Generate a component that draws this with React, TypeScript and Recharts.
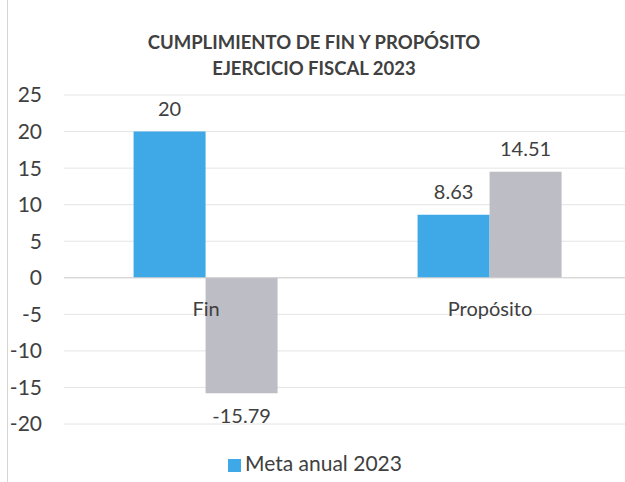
import { BarChart, Bar, XAxis, YAxis, CartesianGrid, Legend, LabelList, ReferenceLine } from 'recharts'

const categorias = ['Fin', 'Propósito']
const metaAnual = [20, 8.63]
const resultado = [-15.79, 14.51]
const ticksY = [-20, -15, -10, -5, 0, 5, 10, 15, 20, 25]

const data = categorias.map((c, i) => ({
  name: c,
  meta: metaAnual[i],
  resultado: resultado[i]
}))

const font = 'Lato, "Open Sans", sans-serif'
const texto = '#404040'

function CategoriaTick({ x, y, payload }: any) {
  // las etiquetas van sobre la linea de cero, no abajo del grafico
  return (
    <text x={x} y={y - 116} textAnchor="middle" fill={texto} fontSize={20} fontFamily={font}>
      {payload.value}
    </text>
  )
}

export default function App() {
  return (
    <div style={{ position: 'absolute', left: 0, top: 0, width: 625, height: 482, overflow: 'hidden', background: '#fff' }}>
      <div style={{ position: 'absolute', left: 7, top: 0, width: 1, height: 482, background: '#d6d6d6' }} />
      <div
        style={{
          position: 'absolute',
          left: 0,
          top: 29,
          width: 628,
          textAlign: 'center',
          fontFamily: font,
          fontWeight: 700,
          fontSize: 18.5,
          lineHeight: '26px',
          color: texto
        }}
      >
        <div>CUMPLIMIENTO DE FIN Y PROPÓSITO</div>
        <div>EJERCICIO FISCAL 2023</div>
      </div>
      <BarChart
        width={632}
        height={482}
        data={data}
        margin={{ top: 95, right: 0, bottom: 28, left: 0 }}
        barCategoryGap="24.5%"
        barGap={0}
      >
        <CartesianGrid vertical={false} stroke="#e4e4e4" />
        <XAxis
          dataKey="name"
          axisLine={false}
          tickLine={false}
          height={30}
          tick={<CategoriaTick />}
          interval={0}
        />
        <YAxis
          domain={[-20, 25]}
          ticks={ticksY}
          width={64}
          axisLine={false}
          tickLine={false}
          tickMargin={16}
          tick={{ fill: texto, fontSize: 21, fontFamily: font }}
        />
        <ReferenceLine y={0} stroke="#d0d0d0" />
        <Legend
          verticalAlign="middle"
          align="center"
          iconType="square"
          iconSize={13}
          wrapperStyle={{ top: 450, left: 0, width: 640, fontFamily: font, fontSize: 21 }}
          formatter={(v) => <span style={{ color: texto }}>{v}</span>}
        />
        <Bar dataKey="meta" name="Meta anual 2023" fill="#3fa8e7" isAnimationActive={false}>
          <LabelList dataKey="meta" position="top" offset={16} fill={texto} fontSize={20} fontFamily={font} />
        </Bar>
        <Bar dataKey="resultado" name="Resultado 2023" fill="#bdbdc5" legendType="none" isAnimationActive={false}>
          <LabelList dataKey="resultado" position="top" offset={16} fill={texto} fontSize={20} fontFamily={font} />
        </Bar>
      </BarChart>
    </div>
  )
}
